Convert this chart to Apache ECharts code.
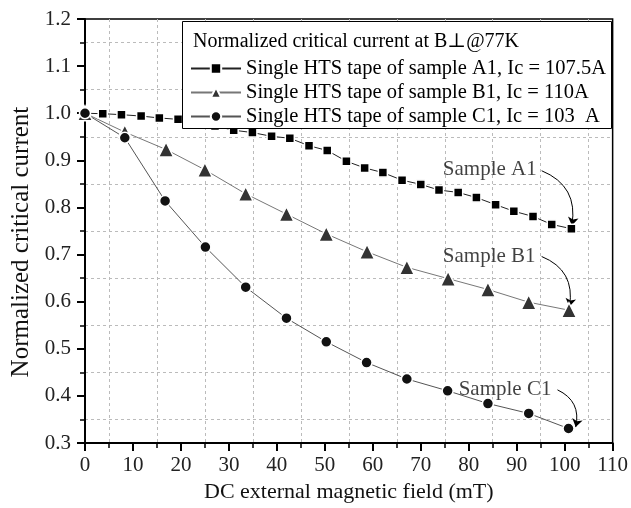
<!DOCTYPE html>
<html>
<head>
<meta charset="utf-8">
<title>Normalized critical current</title>
<script src="https://cdn.jsdelivr.net/npm/echarts@6/dist/echarts.min.js"></script>
<style>
	html, body { margin: 0; padding: 0; background: #fff; }
	#main { width: 631px; height: 508px; }
</style>
</head>
<body>
<div id="main"></div>
<script>
	// sample A1 (squares)
	var fieldA = [0, 3.7, 7.6, 11.7, 15.5, 19.4, 23.3, 27.1, 31.0, 34.9, 38.9, 42.7, 46.7, 50.5,
		54.5, 58.3, 62.1, 66.1, 70.0, 73.8, 77.8, 81.6, 85.6, 89.4, 93.4, 97.3, 101.4];
	var currentA = [1.0, 0.999, 0.997, 0.994, 0.990, 0.987, 0.982, 0.973, 0.964, 0.959, 0.951, 0.947, 0.931, 0.921,
		0.898, 0.884, 0.874, 0.858, 0.849, 0.837, 0.832, 0.821, 0.806, 0.792, 0.781, 0.764, 0.755];
	// sample B1 (triangles)
	var fieldB = [0, 8.3, 16.9, 25.0, 33.5, 42.0, 50.3, 58.8, 67.1, 75.7, 84.0, 92.5, 100.9];
	var currentB = [1.0, 0.960, 0.923, 0.880, 0.829, 0.786, 0.744, 0.706, 0.673, 0.649, 0.626, 0.599, 0.582];
	// sample C1 (circles)
	var fieldC = [0, 8.3, 16.7, 25.1, 33.5, 42.0, 50.3, 58.7, 67.1, 75.6, 84.0, 92.5, 100.8];
	var currentC = [1.0, 0.948, 0.814, 0.716, 0.631, 0.565, 0.515, 0.471, 0.436, 0.411, 0.384, 0.363, 0.331];

	var seriesNames = ['Single HTS tape of sample A1, Ic = 107.5A',
		'Single HTS tape of sample B1, Ic = 110A',
		'Single HTS tape of sample C1, Ic = 103  A'];
	var legendTitle = 'Normalized critical current at B\u22a5@77K';

	// annotation text anchors and arrows (data coords)
	var noteLabels = [[74.6, 0.880, 'Sample A1'], [74.6, 0.696, 'Sample B1'], [77.9, 0.413, 'Sample C1']];
	var noteArrows = [
		[[95.2, 0.878], [101.5, 0.762]],
		[[95.2, 0.696], [101.0, 0.590]],
		[[98.5, 0.413], [102.3, 0.334]]
	];

	var FONT = '"Liberation Serif", "DejaVu Serif", serif';

	function pairs(xs, ys) {
		var out = [];
		for (var i = 0; i < xs.length; i++) {
			out.push([xs[i], ys[i]]);
		}
		return out;
	}

	function dataSeries(name, xs, ys, symbol, size, fill, line) {
		return {
			name: name,
			type: 'line',
			data: pairs(xs, ys),
			symbol: symbol,
			symbolSize: size,
			showAllSymbol: true,
			z: 2,
			lineStyle: { color: line, width: 1 },
			itemStyle: { color: fill, borderColor: '#fff', borderWidth: 1.5 }
		};
	}

	var arrowData = [];
	for (var k = 0; k < noteArrows.length; k++) {
		arrowData.push({ coords: noteArrows[k] });
	}

	var chart = echarts.init(document.getElementById('main'), null, { renderer: 'canvas' });
	var option = {
		animation: false,
		backgroundColor: '#fff',
		textStyle: { fontFamily: FONT, color: '#000' },
		grid: {
			left: 85, right: 18, top: 19, bottom: 59,
			show: true, borderColor: '#000', borderWidth: 1.5
		},
		xAxis: {
			type: 'value', min: 0, max: 110, interval: 10,
			name: 'DC external magnetic field (mT)',
			nameLocation: 'middle', nameGap: 36,
			nameTextStyle: { fontFamily: FONT, fontSize: 22, color: '#111' },
			axisLine: { show: true, lineStyle: { color: '#000', width: 2 } },
			axisTick: { show: true, inside: false, length: 8, lineStyle: { color: '#000', width: 2 } },
			minorTick: { show: true, splitNumber: 2, length: 5, lineStyle: { color: '#000', width: 1.5 } },
			axisLabel: { fontFamily: FONT, fontSize: 21, color: '#222', margin: 12 },
			splitLine: { show: false },
			minorSplitLine: { show: true, lineStyle: { color: '#bbb', type: [3, 3], width: 1 } }
		},
		yAxis: {
			type: 'value', min: 0.3, max: 1.2, interval: 0.1,
			name: 'Normalized critical current',
			nameLocation: 'middle', nameGap: 50,
			nameTextStyle: { fontFamily: FONT, fontSize: 25, color: '#111', padding: [0, 22, 0, 0] },
			axisLine: { show: true, lineStyle: { color: '#000', width: 2 } },
			axisTick: { show: true, inside: false, length: 8, lineStyle: { color: '#000', width: 2 } },
			minorTick: { show: true, splitNumber: 2, length: 5, lineStyle: { color: '#000', width: 1.5 } },
			axisLabel: {
				fontFamily: FONT, fontSize: 21, color: '#222', margin: 14,
				formatter: function (v) { return v.toFixed(1); }
			},
			splitLine: { show: false },
			minorSplitLine: { show: true, lineStyle: { color: '#bbb', type: [3, 3], width: 1 } }
		},
		legend: {
			data: seriesNames,
			orient: 'vertical',
			left: 190, top: 58,
			z: 5,
			itemWidth: 50, itemHeight: 13, itemGap: 3,
			padding: 0,
			textStyle: { fontFamily: FONT, fontSize: 20.5, color: '#000' },
			selectedMode: false
		},
		graphic: [
			{
				type: 'rect', z: 3,
				shape: { x: 182.5, y: 21.5, width: 429, height: 107 },
				style: { fill: '#fff', stroke: '#000', lineWidth: 1 }
			},
			{
				type: 'text', z: 6,
				left: 193, top: 32,
				style: { text: legendTitle, font: '20px ' + FONT, fill: '#000' }
			}
		],
		series: [
			dataSeries(seriesNames[0], fieldA, currentA, 'rect', 9, '#000', '#222'),
			dataSeries(seriesNames[1], fieldB, currentB, 'triangle', 15, '#333', '#777'),
			dataSeries(seriesNames[2], fieldC, currentC, 'circle', 11, '#111', '#555'),
			{
				name: 'notes',
				type: 'scatter',
				symbolSize: 0,
				data: noteLabels,
				label: {
					show: true, position: 'right', distance: 0,
					fontFamily: FONT, fontSize: 21, color: '#111',
					formatter: function (p) { return p.value[2]; }
				},
				z: 2
			},
			{
				name: 'arrows',
				type: 'lines',
				coordinateSystem: 'cartesian2d',
				data: arrowData,
				symbol: ['none', 'arrow'],
				symbolSize: 8,
				lineStyle: { color: '#000', width: 1, opacity: 1, curveness: 0.4 },
				z: 2
			}
		]
	};
	chart.setOption(option);
</script>
</body>
</html>
